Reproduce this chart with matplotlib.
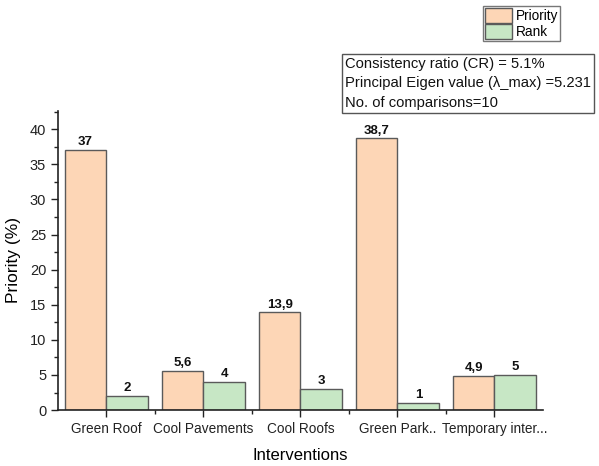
import matplotlib
matplotlib.use("Agg")
import matplotlib.pyplot as plt
import numpy as np
from matplotlib.ticker import MultipleLocator, FixedLocator
from matplotlib.patches import Patch

categories = ["Green Roof", "Cool Pavements", "Cool Roofs", "Green Park..", "Temporary inter..."]
priority = [37.0, 5.6, 13.9, 38.7, 4.9]
priority_labels = ["37", "5,6", "13,9", "38,7", "4,9"]
rank = [2, 4, 3, 1, 5]
rank_labels = ["2", "4", "3", "1", "5"]

plt.rcParams['font.family'] = ['Liberation Sans', 'DejaVu Sans']

fig = plt.figure(figsize=(5.99, 4.66), dpi=100)
ax = fig.add_axes([0.0968, 0.12, 0.8097, 0.642])

x = np.arange(1, len(categories) + 1)
w = 0.43
c_pri = "#FDD6B6"
c_rank = "#C7E7C5"
edge = "#5a5a5a"

b1 = ax.bar(x - w / 2, priority, width=w, color=c_pri, edgecolor=edge, linewidth=1.0)
b2 = ax.bar(x + w / 2, rank, width=w, color=c_rank, edgecolor=edge, linewidth=1.0)

for bars, labs in ((b1, priority_labels), (b2, rank_labels)):
    for rect, lab in zip(bars, labs):
        ax.text(rect.get_x() + rect.get_width() / 2, rect.get_height() + 0.25, lab,
                ha="center", va="bottom", fontsize=9.5, fontweight="bold", color="#111111")

ax.set_xlim(0.5, 5.5)
ax.set_ylim(0, 42.6)
ax.set_xticks(x)
ax.set_xticklabels(categories, fontsize=9.8)
ax.xaxis.set_minor_locator(FixedLocator([1.5, 2.5, 3.5, 4.5]))
ax.yaxis.set_major_locator(MultipleLocator(5))
ax.yaxis.set_minor_locator(MultipleLocator(2.5))
ax.tick_params(axis="both", which="major", direction="out", length=5, width=1.0, colors="#222222")
ax.tick_params(axis="y", which="major", labelsize=10.5)
ax.tick_params(axis="both", which="minor", direction="out", length=3, width=1.0, colors="#222222")

for s in ["top", "right"]:
    ax.spines[s].set_visible(False)
for s in ["left", "bottom"]:
    ax.spines[s].set_linewidth(1.2)
    ax.spines[s].set_color("#222222")

ax.set_ylabel("Priority (%)", fontsize=12.5, labelpad=6)
ax.set_xlabel("Interventions", fontsize=12, labelpad=9)

handles = [Patch(facecolor=c_pri, edgecolor=edge, label="Priority"),
           Patch(facecolor=c_rank, edgecolor=edge, label="Rank")]
leg = fig.legend(handles=handles, loc="upper left", bbox_to_anchor=(483 / 599, 1 - 6 / 466),
                 fontsize=9.8, frameon=True, fancybox=False, edgecolor="#555555",
                 handlelength=2.0, handleheight=1.3, handletextpad=0.25,
                 borderpad=0.15, labelspacing=0.05, borderaxespad=0)
leg.get_frame().set_linewidth(1.0)

fig.text(345 / 599, 1 - 83.5 / 466,
         "Consistency ratio (CR) = 5.1%\nPrincipal Eigen value (\u03bb_max) =5.231\nNo. of comparisons=10",
         fontsize=10.6, ha="left", va="center", linespacing=1.48, color="#111111",
         bbox=dict(boxstyle="square,pad=0.2", facecolor="white", edgecolor="#555555", linewidth=1.0))

fig.savefig("out.png", dpi=100)
